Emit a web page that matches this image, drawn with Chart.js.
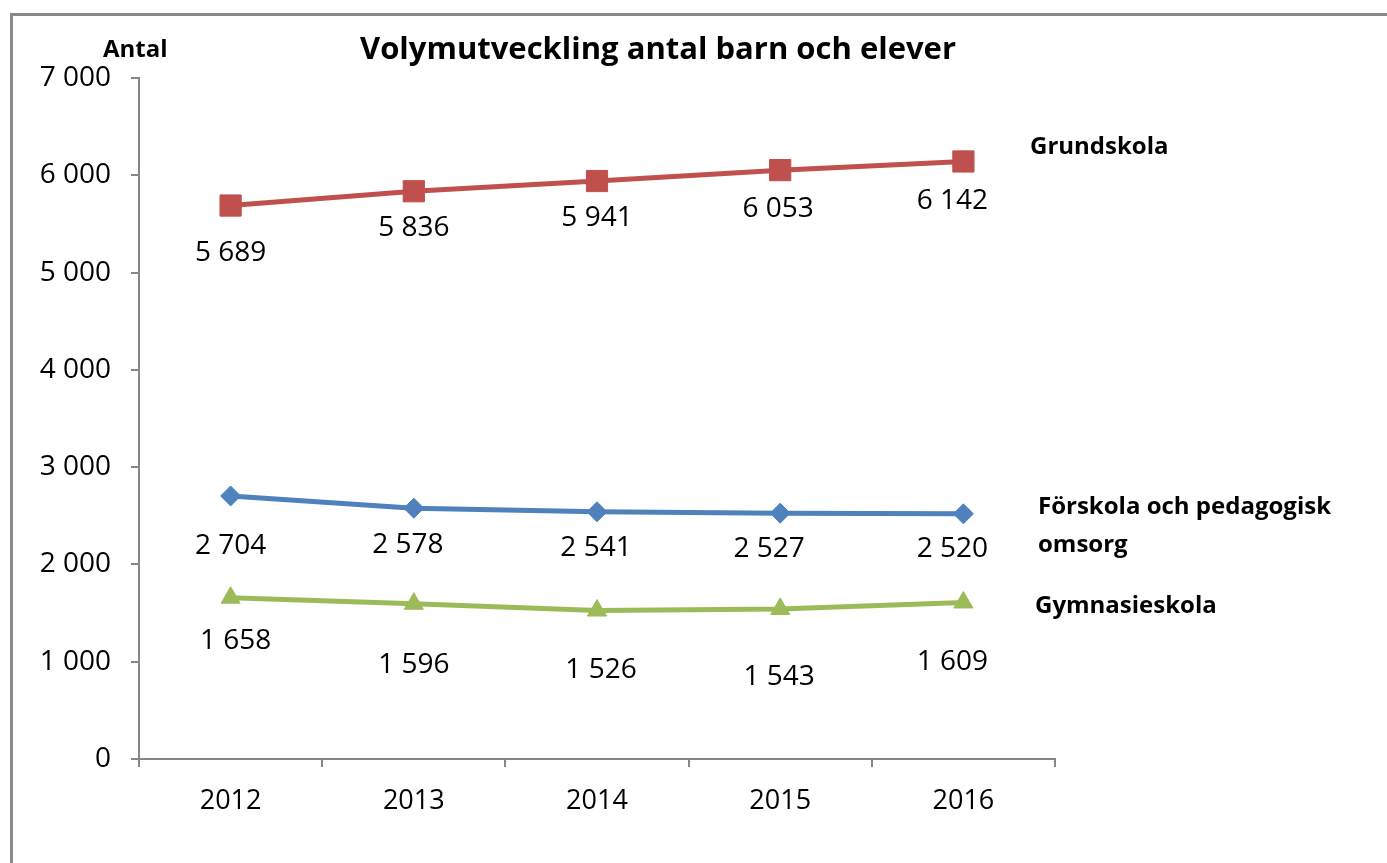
<!DOCTYPE html>
<html>
<head>
<meta charset="utf-8">
<script src="https://cdn.jsdelivr.net/npm/chart.js@4/dist/chart.umd.min.js"></script>
<style>
    body { margin: 0; background: #fff; }
    #wrap { position: relative; width: 1387px; height: 863px; }
    #frame {
        position: absolute; left: 10px; top: 13px; right: -10px; bottom: -10px;
        border-top: 3px solid #8a8a8a; border-left: 3px solid #8a8a8a;
    }
</style>
</head>
<body>
<div id="wrap">
    <div id="frame"></div>
    <canvas id="volChart"></canvas>
</div>
<script>
const years = ["2012", "2013", "2014", "2015", "2016"];
const grundskola = [5689, 5836, 5941, 6053, 6142];
const forskola = [2704, 2578, 2541, 2527, 2520];
const gymnasieskola = [1658, 1596, 1526, 1543, 1609];
const yTicks = [0, 1000, 2000, 3000, 4000, 5000, 6000, 7000];

const FONT = "'Open Sans', 'Liberation Sans', sans-serif";

function fmt(n) {
    return String(n).replace(/\B(?=(\d{3})+(?!\d))/g, " ");
}

// value labels under each point and series names to the right
const labelPlugin = {
    id: "labels",
    afterDatasetsDraw(chart) {
        const ctx = chart.ctx;
        const area = chart.chartArea;
        ctx.save();
        ctx.fillStyle = "#000";
        ctx.textBaseline = "middle";
        chart.data.datasets.forEach((ds, i) => {
            const meta = chart.getDatasetMeta(i);
            ctx.font = "28px " + FONT;
            ctx.textAlign = "center";
            meta.data.forEach((pt, j) => {
                ctx.fillText(fmt(ds.data[j]), pt.x + ds.labelDx[j], pt.y + ds.labelDy[j]);
            });
            const last = meta.data[meta.data.length - 1];
            ctx.font = "bold 24px " + FONT;
            ctx.textAlign = "left";
            ds.nameLines.forEach((line, k) => {
                ctx.fillText(line, area.right + ds.nameDx, last.y + ds.nameDy + k * 38);
            });
        });

        ctx.font = "bold 31px " + FONT;
        ctx.textAlign = "center";
        ctx.fillText("Volymutveckling antal barn och elever", 658, 50);
        ctx.font = "bold 24px " + FONT;
        ctx.textAlign = "left";
        ctx.fillText("Antal", 103, 50);
        ctx.restore();
    },
};

const ctx = document.getElementById("volChart").getContext("2d");
new Chart(ctx, {
    type: "line",
    data: {
        labels: years,
        datasets: [
            {
                label: "Grundskola",
                data: grundskola,
                borderColor: "#C0504D",
                backgroundColor: "#C0504D",
                pointStyle: "rect",
                pointRadius: 15,
                labelDy: [47, 37, 37, 39, 40],
                labelDx: [0, 0, 0, -2, -11],
                nameLines: ["Grundskola"],
                nameDx: -25,
                nameDy: -14,
            },
            {
                label: "Förskola och pedagogisk omsorg",
                data: forskola,
                borderColor: "#4F81BD",
                backgroundColor: "#4F81BD",
                pointStyle: "rectRot",
                pointRadius: 10,
                labelDy: [50, 37, 36, 36, 35],
                labelDx: [0, -6, -1, -11, -11],
                nameLines: ["Förskola och pedagogisk", "omsorg"],
                nameDx: -17,
                nameDy: -7,
            },
            {
                label: "Gymnasieskola",
                data: gymnasieskola,
                borderColor: "#9BBB59",
                backgroundColor: "#9BBB59",
                pointStyle: "triangle",
                pointRadius: 11,
                labelDy: [43, 61, 59, 68, 60],
                labelDx: [5, 0, 4, -1, -11],
                nameLines: ["Gymnasieskola"],
                nameDx: -20,
                nameDy: 4,
            },
        ],
    },
    options: {
        responsive: true,
        maintainAspectRatio: false,
        animation: false,
        layout: { padding: { left: 0, right: 332, top: 78, bottom: 0 } },
        elements: {
            line: { borderWidth: 5, tension: 0 },
            point: { borderWidth: 1, hoverRadius: 10 },
        },
        plugins: {
            legend: { display: false },
            tooltip: { enabled: false },
        },
        scales: {
            x: {
                offset: true,
                grid: {
                    offset: true,
                    drawOnChartArea: false,
                    drawTicks: true,
                    tickLength: 8,
                    color: "#868686",
                    lineWidth: 2,
                },
                border: { color: "#868686", width: 2 },
                ticks: { color: "#000", font: { family: FONT, size: 27 }, padding: 18 },
                afterFit(scale) { scale.height = 104; },
            },
            y: {
                min: 0,
                max: 7000,
                afterBuildTicks(scale) { scale.ticks = yTicks.map(v => ({ value: v })); },
                grid: {
                    drawOnChartArea: false,
                    drawTicks: true,
                    tickLength: 8,
                    color: "#868686",
                    lineWidth: 2,
                },
                border: { color: "#868686", width: 2 },
                ticks: {
                    color: "#000",
                    font: { family: FONT, size: 28 },
                    padding: 20,
                    callback: v => fmt(v),
                },
                afterFit(scale) { scale.width = 139; },
            },
        },
    },
    plugins: [labelPlugin],
});
</script>
</body>
</html>
